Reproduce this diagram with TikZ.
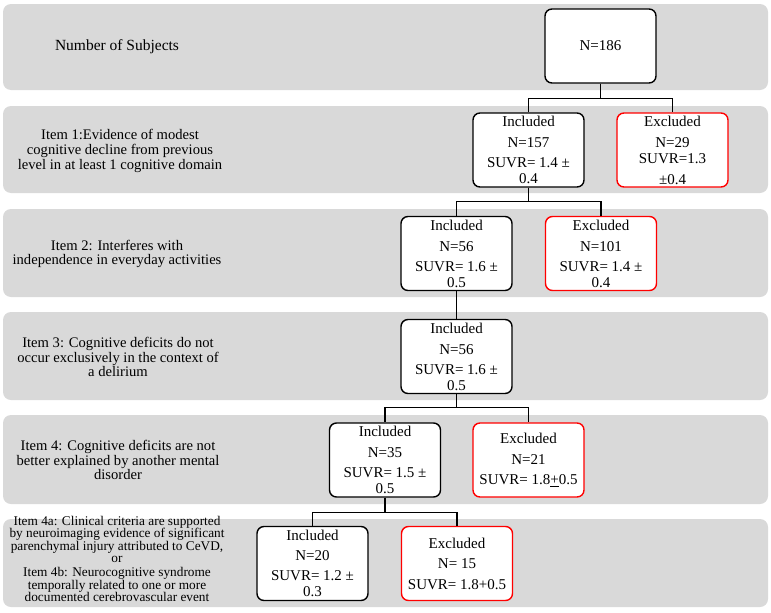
\documentclass[tikz,border=0pt]{standalone}
\usepackage{fontspec}
\setmainfont{Liberation Serif}
\definecolor{bandgray}{RGB}{217,217,217}
\definecolor{exred}{RGB}{255,0,0}
\begin{document}
\begin{tikzpicture}[x=1pt,y=-1pt,
  band/.style={fill=bandgray, rounded corners=8pt},
  incbox/.style={draw=black, line width=1.4pt, rounded corners=7pt, fill=white,
    minimum width=111pt, minimum height=74pt, align=center, inner sep=0pt,
    font=\fontsize{15}{16}\selectfont},
  excbox/.style={incbox, draw=exred},
  lab/.style={align=center, inner sep=0pt, font=\fontsize{14.6}{14.7}\selectfont},
  conn/.style={draw=black, line width=1.2pt}
]
\useasboundingbox (0,0) rectangle (771,613);
% bands
\fill[band] (3,4) rectangle (768,90);
\fill[band] (3,106) rectangle (768,193);
\fill[band] (3,209) rectangle (768,297);
\fill[band] (3,312) rectangle (768,400);
\fill[band] (3,415) rectangle (768,504);
\fill[band] (3,519) rectangle (768,607);
% left labels
\node[lab, font=\fontsize{15.5}{16}\selectfont] (l0) at (117,47) {Number of Subjects};
\node[lab] (l1) at (120,151) {Item 1:Evidence of modest\\cognitive decline from previous\\level in at least 1 cognitive domain};
\node[lab] (l2) at (117,254) {Item 2: Interferes with\\independence in everyday activities};
\node[lab] (l3) at (118,357) {Item 3: Cognitive deficits do not\\occur exclusively in the context of\\a delirium};
\node[lab] (l4) at (118,460) {Item 4: Cognitive deficits are not\\better explained by another mental\\disorder};
\node[lab, font=\fontsize{13.3}{12.4}\selectfont] (l5) at (117,559) {Item 4a: Clinical criteria are supported\\by neuroimaging evidence of significant\\parenchymal injury attributed to CeVD,\\or\\[2pt]Item 4b: Neurocognitive syndrome\\temporally related to one or more\\documented cerebrovascular event};
% boxes
\node[incbox] (b0) at (600.5,46) {N=186};
\node[incbox] (inc1) at (528.5,150) {Included\\[5pt]N=157\\[4pt]SUVR= 1.4 ±\\0.4};
\node[excbox] (exc1) at (672.5,150) {Excluded\\[5pt]N=29\\SUVR=1.3\\[5pt]±0.4};
\node[incbox] (inc2) at (456.5,253.5) {Included\\[5pt]N=56\\[4pt]SUVR= 1.6 ±\\0.5};
\node[excbox] (exc2) at (601,253.5) {Excluded\\[5pt]N=101\\[4pt]SUVR= 1.4 ±\\0.4};
\node[incbox] (inc3) at (456.5,356.5) {Included\\[5pt]N=56\\[4pt]SUVR= 1.6 ±\\0.5};
\node[incbox] (inc4) at (385,460) {Included\\[5pt]N=35\\[4pt]SUVR= 1.5 ±\\0.5};
\node[excbox] (exc4) at (528.5,460) {Excluded\\[5pt]N=21\\[4pt]SUVR= 1.8\underline{+}0.5};
\node[incbox] (inc5) at (312.5,563.5) {Included\\[4pt]N=20\\[4pt]SUVR= 1.2 ±\\0.3};
\node[excbox] (exc5) at (457,563.5) {Excluded\\[4pt]N= 15\\[5pt]SUVR= 1.8+0.5};
% connectors
\draw[conn] (b0.south) -- ++(0,15) -| (inc1.north);
\draw[conn] (b0.south) -- ++(0,15) -| (exc1.north);
\draw[conn] (inc1.south) -- ++(0,14) -| (inc2.north);
\draw[conn] (inc1.south) -- ++(0,14) -| (exc2.north);
\draw[conn] (inc2.south) -- (inc3.north);
\draw[conn] (inc3.south) -- ++(0,13) -| (inc4.north);
\draw[conn] (inc3.south) -- ++(0,13) -| (exc4.north);
\draw[conn] (inc4.south) -- ++(0,15) -| (inc5.north);
\draw[conn] (inc4.south) -- ++(0,15) -| (exc5.north);
\end{tikzpicture}
\end{document}
